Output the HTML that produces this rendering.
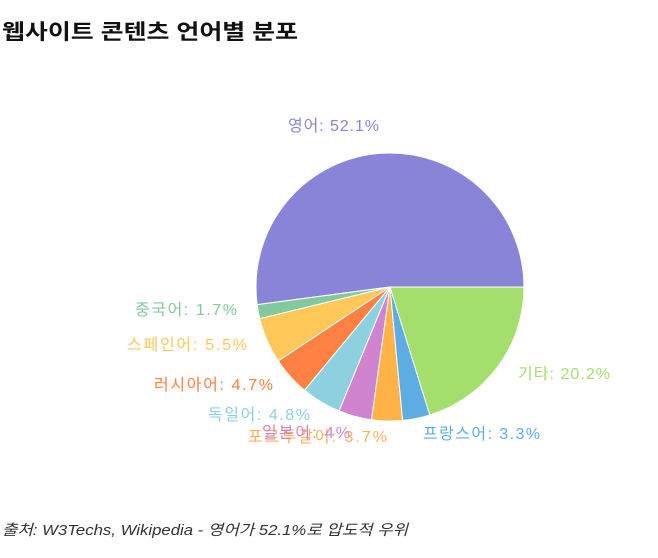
<!DOCTYPE html>
<html><head><meta charset="utf-8"><style>
body{margin:0;background:#fff;width:658px;height:553px;overflow:hidden;font-family:"Liberation Sans","Noto Sans CJK KR",sans-serif}
</style></head><body>
<svg id="s" width="658" height="553" xmlns="http://www.w3.org/2000/svg" style="font-family:'Liberation Sans','Noto Sans CJK KR',sans-serif">
<text x="2" y="39" font-size="21" font-weight="bold" fill="#111" textLength="296" lengthAdjust="spacingAndGlyphs">웹사이트 콘텐츠 언어별 분포</text>
<g id="pie"></g>
<g font-size="16" lengthAdjust="spacingAndGlyphs">
<text x="288" y="131" fill="#8884d8" textLength="91">영어: 52.1%</text>
<text x="135" y="315" fill="#82ca9d" textLength="102">중국어: 1.7%</text>
<text x="127" y="350" fill="#ffc658" textLength="120">스페인어: 5.5%</text>
<text x="154" y="390" fill="#ff8042" textLength="119">러시아어: 4.7%</text>
<text x="208" y="420" fill="#8dd1e1" textLength="102">독일어: 4.8%</text>
<text x="248" y="442" fill="#f5b35a" textLength="139">포르투갈어: 3.7%</text>
<text x="262" y="438" fill="#d084d0" textLength="88">일본어: 4%</text>
<text x="423" y="439" fill="#5dade2" textLength="117">프랑스어: 3.3%</text>
<text x="518" y="379" fill="#a4de6c" textLength="92">기타: 20.2%</text>
</g>
<text x="2" y="535" font-size="15" font-style="italic" fill="#333" textLength="406" lengthAdjust="spacingAndGlyphs">출처: W3Techs, Wikipedia - 영어가 52.1%로 압도적 우위</text>
</svg>
<script>
var d=[[52.1,"#8884d8"],[1.7,"#82ca9d"],[5.5,"#ffc658"],[4.7,"#ff8042"],[4.8,"#8dd1e1"],[4,"#d084d0"],[3.7,"#ffb347"],[3.3,"#5dade2"],[20.2,"#a4de6c"]];
var cx=390,cy=287,r=134,a=0,g=document.getElementById("pie"),h="";
d.forEach(function(e){var b=a+e[0]*3.6,r1=a*Math.PI/180,r2=b*Math.PI/180;
var x1=cx+r*Math.cos(r1),y1=cy-r*Math.sin(r1),x2=cx+r*Math.cos(r2),y2=cy-r*Math.sin(r2);
h+='<path d="M'+cx+','+cy+'L'+x1+','+y1+'A'+r+','+r+' 0 '+(b-a>180?1:0)+' 0 '+x2+','+y2+'Z" fill="'+e[1]+'" stroke="#fff" stroke-width="1"/>';a=b;});
g.innerHTML=h;
</script>
</body></html>
